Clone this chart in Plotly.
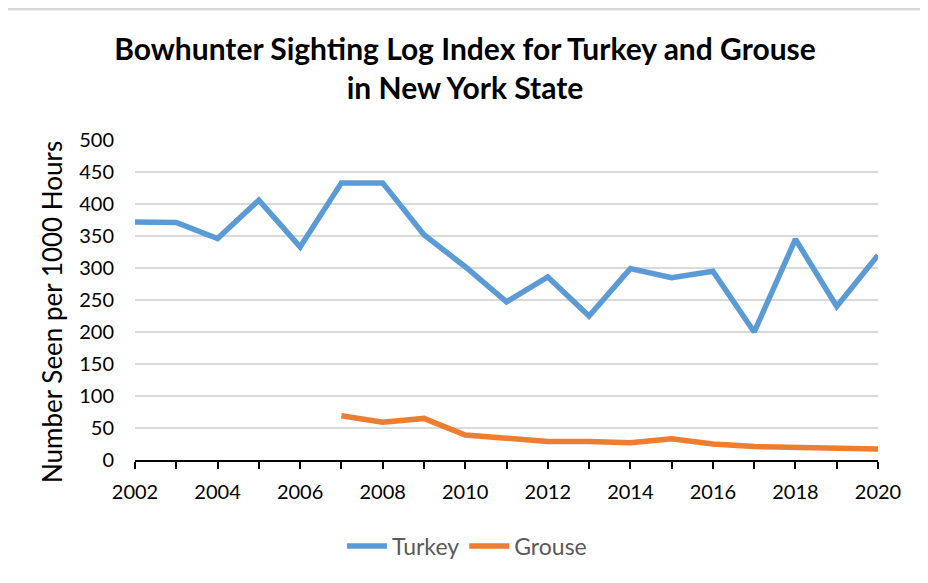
import plotly.graph_objects as go

years = list(range(2002, 2021))
turkey = [372, 371, 346, 406, 333, 433, 433, 352, 302, 247, 286, 225, 299, 285, 295, 200, 345, 240, 320]
grouse_years = list(range(2007, 2021))
grouse = [69, 59, 65, 39, 34, 29, 29, 27, 33, 25, 21, 19, 17, 17]
y_ticks = [0, 50, 100, 150, 200, 250, 300, 350, 400, 450, 500]
x_tick_labels = [str(y) if (y - 2002) % 2 == 0 else "" for y in years]

FONT = "Lato, 'Liberation Sans', sans-serif"

fig = go.Figure()
fig.add_trace(go.Scatter(x=years, y=turkey, mode="lines", name="Turkey",
                         line=dict(color="#5B9BD5", width=5.5)))
fig.add_trace(go.Scatter(x=grouse_years, y=grouse, mode="lines", name="Grouse",
                         line=dict(color="#ED7D31", width=5.5)))

# page body has an 8px margin, so the figure is 8px smaller and all coords shifted by 8
OFF = 8
W, H = 928 - OFF, 583 - OFF
L, T = 135 - OFF, 140 - OFF
R = W - (878 - OFF)
B = H - (460 - OFF)
pw, ph = W - L - R, H - T - B

def px(p):
    return (p - OFF - L) / pw

def py(q):
    return (H - B - (q - OFF)) / ph

fig.update_layout(
    width=W, height=H,
    margin=dict(l=L, r=R, t=T, b=B),
    paper_bgcolor="white", plot_bgcolor="white",
    font=dict(family=FONT, color="#404040"),
    title=dict(text="<b>Bowhunter Sighting Log Index for Turkey and Grouse<br>in New York State</b>",
               x=px(465), xanchor="center", xref="paper", y=1 - (60 - OFF) / H, yanchor="middle",
               font=dict(size=30, color="#000000", family=FONT)),
    showlegend=True,
    legend=dict(orientation="h", x=px(467), xanchor="center", y=py(546), yanchor="middle",
                font=dict(size=23, color="#595959", family=FONT), itemwidth=40),
    xaxis=dict(range=[2002, 2020], tickmode="array", tickvals=years, ticktext=x_tick_labels,
               showgrid=False, showline=True, linecolor="#000000", linewidth=2,
               ticks="outside", ticklen=7, tickwidth=2, tickcolor="#000000",
               ticklabelstandoff=6,
               tickfont=dict(size=20, color="#000000", family=FONT), zeroline=False),
    yaxis=dict(range=[0, 500], tickmode="array", tickvals=y_ticks,
               showgrid=True, gridcolor="#D9D9D9", gridwidth=1.5, zeroline=False,
               showline=False, ticks="", ticklen=0, ticklabelstandoff=20,
               tickfont=dict(size=20, color="#000000", family=FONT)),
)

# y-axis title, placed as in the reference
fig.add_annotation(text="Number Seen per 1000 Hours", textangle=-90,
                   xref="paper", yref="paper", x=px(52), y=py(312),
                   xanchor="center", yanchor="middle", showarrow=False,
                   font=dict(size=26, color="#000000", family=FONT))

# chart frame (top and right edges visible in the reference)
fig.add_shape(type="line", xref="paper", yref="paper",
              x0=px(OFF), x1=px(927), y0=py(OFF + 1), y1=py(OFF + 1),
              line=dict(color="#D9D9D9", width=3), layer="below")
fig.add_shape(type="line", xref="paper", yref="paper",
              x0=px(927), x1=px(927), y0=py(OFF + 1), y1=py(583),
              line=dict(color="#D9D9D9", width=2), layer="below")

fig.write_html("out.html")
